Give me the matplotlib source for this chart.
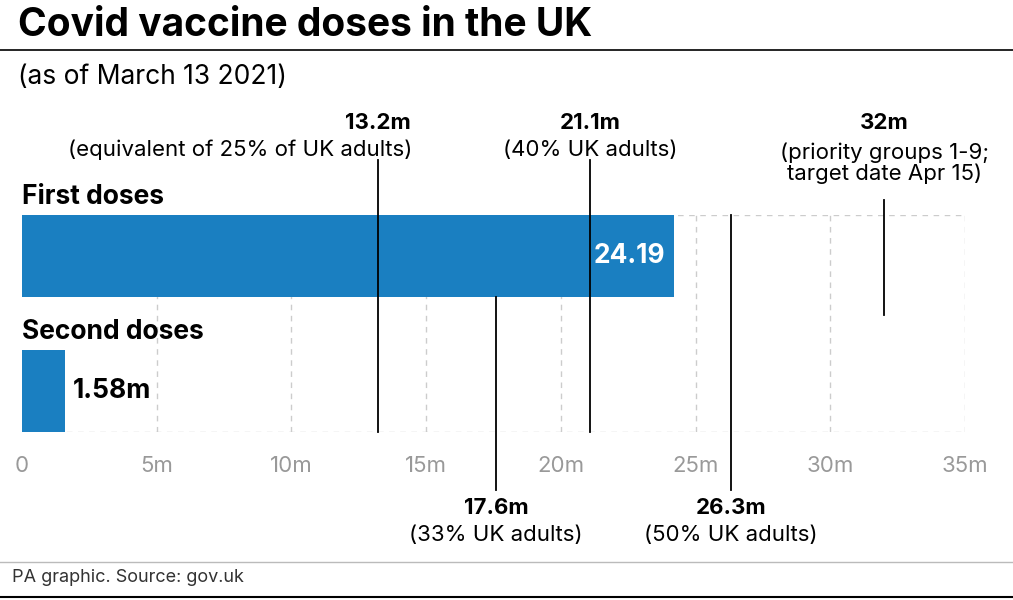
import matplotlib.pyplot as plt

plt.rcParams['font.family'] = ['Inter', 'DejaVu Sans']

categories = ["First doses", "Second doses"]
doses = [24.19, 1.58]
dose_labels = ["24.19", "1.58m"]
ticks = [0, 5, 10, 15, 20, 25, 30, 35]
tick_labels = ["0", "5m", "10m", "15m", "20m", "25m", "30m", "35m"]
# milestone value, bold label, caption, placement
milestones = [
    (13.2, "13.2m", "(equivalent of 25% of UK adults)", "above"),
    (21.1, "21.1m", "(40% UK adults)", "above"),
    (17.6, "17.6m", "(33% UK adults)", "below"),
    (26.3, "26.3m", "(50% UK adults)", "below"),
    (32.0, "32m", "(priority groups 1-9;\ntarget date Apr 15)", "side"),
]

blue = "#1a7fc1"
grey = "#999999"

fig = plt.figure(figsize=(10.13, 6.0), dpi=100)
ax = fig.add_axes([22 / 1013, 1 - 432 / 600, 943 / 1013, 217 / 600])

def py(p):
    # figure pixel row -> data y
    return -0.3037 + (p - 215) / 135

ax.set_xlim(0, 35)
ax.set_ylim(py(432), py(215))
for s in ax.spines.values():
    s.set_visible(False)
ax.set_yticks([])
ax.set_xticks([])

for t in ticks[1:]:
    ax.axvline(t, color="#cccccc", lw=1, ls=(0, (4, 4)), zorder=0)
ax.axhline(py(215), color="#cccccc", lw=1, ls=(0, (4, 4)), zorder=0)
ax.axhline(py(432), color="#cccccc", lw=1, ls=(0, (4, 4)), zorder=0)

ax.barh(range(len(doses)), doses, height=82 / 135, color=blue, zorder=1)

ax.text(doses[0] - 0.3, 0, dose_labels[0], color="white", fontsize=19,
        fontweight="bold", ha="right", va="center", zorder=3)
ax.text(doses[1] + 0.3, 1, dose_labels[1], color="black", fontsize=19,
        fontweight="bold", ha="left", va="center", zorder=3)

for i, c in enumerate(categories):
    ax.text(0, i - 0.34, c, fontsize=19, fontweight="bold", ha="left",
            va="bottom", zorder=3)

for t, lab in zip(ticks, tick_labels):
    ax.text(t, py(466), lab, color=grey, fontsize=16, ha="center", va="center")

fs = 16
for val, bold, cap, where in milestones:
    if where == "above":
        ax.plot([val, val], [py(160), py(432)], color="black", lw=1.3,
                clip_on=False, zorder=2)
        ax.text(val, py(123), bold, fontsize=fs, fontweight="bold",
                ha="center", va="center")
        if val < 15:
            ax.text(val + 1.3, py(150), cap, fontsize=fs, ha="right", va="center")
        else:
            ax.text(val, py(150), cap, fontsize=fs, ha="center", va="center")
    elif where == "below":
        ax.plot([val, val], [py(297 if val < 20 else 215), py(490)],
                color="black", lw=1.3, clip_on=False, zorder=2)
        ax.text(val, py(508), bold, fontsize=fs, fontweight="bold",
                ha="center", va="center")
        ax.text(val, py(535), cap, fontsize=fs, ha="center", va="center")
    else:
        ax.plot([val, val], [py(200), py(315)], color="black", lw=1.3,
                clip_on=False, zorder=2)
        ax.text(val, py(123), bold, fontsize=fs, fontweight="bold",
                ha="center", va="center")
        ax.text(val, py(163), cap, fontsize=fs, ha="center", va="center",
                linespacing=1.0)

fig.text(18 / 1013, 1 - 26 / 600, "Covid vaccine doses in the UK", fontsize=28,
         fontweight="bold", ha="left", va="center")
fig.add_artist(plt.Line2D([0, 1], [1 - 50 / 600] * 2, color="black", lw=1.2))
fig.text(18 / 1013, 1 - 77 / 600, "(as of March 13 2021)", fontsize=19,
         ha="left", va="center")
fig.add_artist(plt.Line2D([0, 1], [1 - 562 / 600] * 2, color="#bbbbbb", lw=1))
fig.text(12 / 1013, 1 - 578 / 600, "PA graphic. Source: gov.uk", fontsize=13,
         color="#333333", ha="left", va="center")
fig.add_artist(plt.Line2D([0, 1], [1 - 597 / 600] * 2, color="black", lw=1.5))

fig.savefig("out.png", dpi=100)
